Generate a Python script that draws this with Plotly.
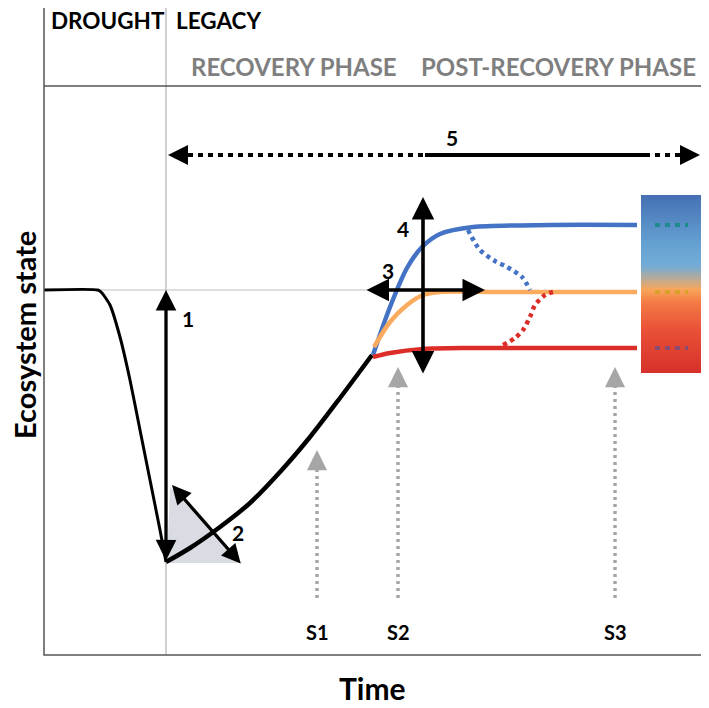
import plotly.graph_objects as go
import numpy as np

# ---- data (time units along x, ecosystem state along y) ----
drought_t = [44, 98, 102, 110, 120, 130, 140, 150, 160, 166]
drought_s = [418, 418, 415, 403, 371, 328, 278, 228, 178, 146]

recovery_t = [166, 190, 220, 250, 280, 310, 340, 372]
recovery_s = [146, 160, 181, 205, 236, 271, 310, 353]

blue_t = [373, 390, 407, 422, 440, 473, 550, 637]
blue_s = [353, 401, 440, 461, 474, 481, 483, 483]

orange_t = [374, 390, 407, 423, 440, 500, 637]
orange_s = [361, 386, 403, 413, 416, 416, 416]

red_t = [373, 390, 423, 470, 637]
red_s = [351, 355, 359, 360, 360]

blue_dot_t = [468, 480, 495, 507, 522, 530]
blue_dot_s = [478, 458, 447, 441, 431, 418]

red_dot_t = [503, 515, 523, 530, 535, 545, 553]
red_dot_s = [363, 370, 378, 391, 403, 413, 416]

triangle_t = [170, 167, 242, 170]
triangle_s = [221, 145, 145, 221]

baseline_state = 418
drought_end_t = 166
box_t = [44, 708]
box_s = [53, 708]
header_s = 622

# state-bar gradient
bar_t = [641, 709]
bar_s = [335, 513]
bar_marks_t = [655, 688]
bar_marks_s = [483, 416, 360]
bar_marks_c = ['#1d8a8e', '#d9a02a', '#8a4b72']

# arrows: (tip_t, tip_s, tail_t, tail_s)
arrow1 = (166, 418, 166, 146)
arrow2 = (172, 223, 242, 143)
arrow3 = (485, 418, 365, 418)
arrow4 = (423, 511, 423, 333)
arrow5_y = 553
arrow5_tips = (168, 700)
arrow5_solid = (425, 645)

s_names = ['S1', 'S2', 'S3']
s_t = [317, 398, 615]
s_tip = [258, 341, 341]
s_base = 110
s_label_s = 76

num_labels = ['1', '2', '3', '4', '5']
num_t = [188, 238, 388, 403, 452]
num_s = [390, 176, 438, 480, 571]

BLUE = '#4472c4'
ORANGE = '#fbab5e'
RED = '#dc2e28'
GRAY = '#a6a6a6'
FONT = 'Lato'

# the page places the plot 8px in from the top-left corner
PAGE_OFFSET = 8
W, H = 709 - PAGE_OFFSET, 708 - PAGE_OFFSET

fig = go.Figure()

def line(t, s, color, width, dash=None, shape='linear', smoothing=1.0):
    fig.add_trace(go.Scatter(x=t, y=s, mode='lines', hoverinfo='skip',
                             line=dict(color=color, width=width, dash=dash, shape=shape,
                                       smoothing=smoothing if shape == 'spline' else None),
                             showlegend=False))

# gradient bar
ny = 200
ys = np.linspace(bar_s[0], bar_s[1], ny + 1)
zc = ((ys[:-1] + ys[1:]) / 2 - bar_s[0]) / (bar_s[1] - bar_s[0])
fig.add_trace(go.Heatmap(x=bar_t, y=ys, z=zc.reshape(-1, 1), zmin=0, zmax=1,
                         showscale=False, hoverinfo='skip',
                         colorscale=[[0, '#d6302a'], [0.25, '#ea5238'], [0.4, '#f37c45'],
                                     [0.47, '#f9a65a'], [0.53, '#b8ab98'], [0.6, '#74acd6'],
                                     [0.72, '#65a2d2'], [1, '#4570b4']]))
for s, c in zip(bar_marks_s, bar_marks_c):
    line(bar_marks_t, [s, s], c, 4, dash='5px,5px')

# reference lines
line([box_t[0], 368], [baseline_state, baseline_state], '#d4d4d4', 1.5)
line([drought_end_t, drought_end_t], [box_s[0], box_s[1]], '#c0c0c0', 1.5)

# triangle
fig.add_trace(go.Scatter(x=triangle_t, y=triangle_s, fill='toself', mode='lines',
                         fillcolor='#d9dce2', line=dict(width=0, color='#d9dce2'),
                         hoverinfo='skip', showlegend=False))

# trajectories
line(drought_t, drought_s, 'black', 3, shape='spline', smoothing=0.5)
line(recovery_t, recovery_s, 'black', 4.5, shape='spline', smoothing=0.8)
line(blue_t, blue_s, BLUE, 4.5, shape='spline', smoothing=0.8)
line(orange_t, orange_s, ORANGE, 4.5, shape='spline', smoothing=0.8)
line(red_t, red_s, RED, 4.5, shape='spline', smoothing=0.8)
line(blue_dot_t, blue_dot_s, BLUE, 4.5, dash='4px,4px', shape='spline', smoothing=0.8)
line(red_dot_t, red_dot_s, RED, 4.5, dash='4px,4px', shape='spline', smoothing=0.8)

# arrow 5 shaft
line([arrow5_tips[0] + 20, arrow5_solid[0]], [arrow5_y] * 2, 'black', 4, dash='5px,5px')
line([arrow5_solid[0], arrow5_solid[1]], [arrow5_y] * 2, 'black', 4)
line([arrow5_solid[1], arrow5_tips[1] - 20], [arrow5_y] * 2, 'black', 4, dash='5px,5px')

# S arrows shafts
for t, tip in zip(s_t, s_tip):
    line([t, t], [s_base, tip - 20], GRAY, 3.5, dash='3px,4px')

annotations = []

def arrow(tip_t, tip_s, tail_t, tail_s, color='black', width=3.3, size=1.25, both=True):
    annotations.append(dict(x=tip_t, y=tip_s, ax=tail_t, ay=tail_s, xref='x', yref='y',
                            axref='x', ayref='y', text='', showarrow=True,
                            arrowhead=2, startarrowhead=2, arrowsize=size, startarrowsize=size,
                            arrowwidth=width, arrowcolor=color,
                            arrowside='end+start' if both else 'end'))

arrow(*arrow1, width=3.3, size=1.25)
arrow(*arrow2, width=3.3, size=1.15)
arrow(*arrow3, width=3.6, size=1.25)
arrow(*arrow4, width=3.6, size=1.25)
arrow(arrow5_tips[0], arrow5_y, arrow5_tips[0] + 21, arrow5_y, width=4, size=1.0, both=False)
arrow(arrow5_tips[1], arrow5_y, arrow5_tips[1] - 21, arrow5_y, width=4, size=1.0, both=False)
for t, tip in zip(s_t, s_tip):
    arrow(t, tip, t, tip - 21, color=GRAY, width=3.5, size=1.15, both=False)

def text(t, s, txt, size=20, color='black', xanchor='center', yanchor='middle', angle=0):
    annotations.append(dict(x=t, y=s, xref='x', yref='y', text='<b>' + txt + '</b>',
                            showarrow=False, xanchor=xanchor, yanchor=yanchor, textangle=angle,
                            font=dict(family=FONT, size=size, color=color)))

for lab, t, s in zip(num_labels, num_t, num_s):
    text(t, s, lab, size=21)
for lab, t in zip(s_names, s_t):
    text(t, s_label_s, lab, size=20)

text(49, 688, 'DROUGHT', size=22.5, xanchor='left')
text(174, 688, 'LEGACY', size=22.5, xanchor='left')
text(189, 642, 'RECOVERY PHASE', size=24, color='#7f7f7f', xanchor='left')
text(419, 642, 'POST-RECOVERY PHASE', size=24, color='#7f7f7f', xanchor='left')
text(372, 20, 'Time', size=30)
text(24, 373, 'Ecosystem state', size=29, angle=-90)

shapes = [
    dict(type='rect', xref='x', yref='y', x0=box_t[0], x1=box_t[1], y0=box_s[0], y1=box_s[1],
         line=dict(color='#555555', width=1.5)),
    dict(type='line', xref='x', yref='y', x0=box_t[0], x1=box_t[1], y0=header_s, y1=header_s,
         line=dict(color='#555555', width=1.5)),
]

fig.update_layout(width=W, height=H, margin=dict(l=0, r=0, t=0, b=0),
                  paper_bgcolor='white', plot_bgcolor='white',
                  xaxis=dict(range=[PAGE_OFFSET, 709], visible=False, fixedrange=True),
                  yaxis=dict(range=[0, H], visible=False, fixedrange=True),
                  annotations=annotations, shapes=shapes, showlegend=False)

fig.write_html('out.html')
